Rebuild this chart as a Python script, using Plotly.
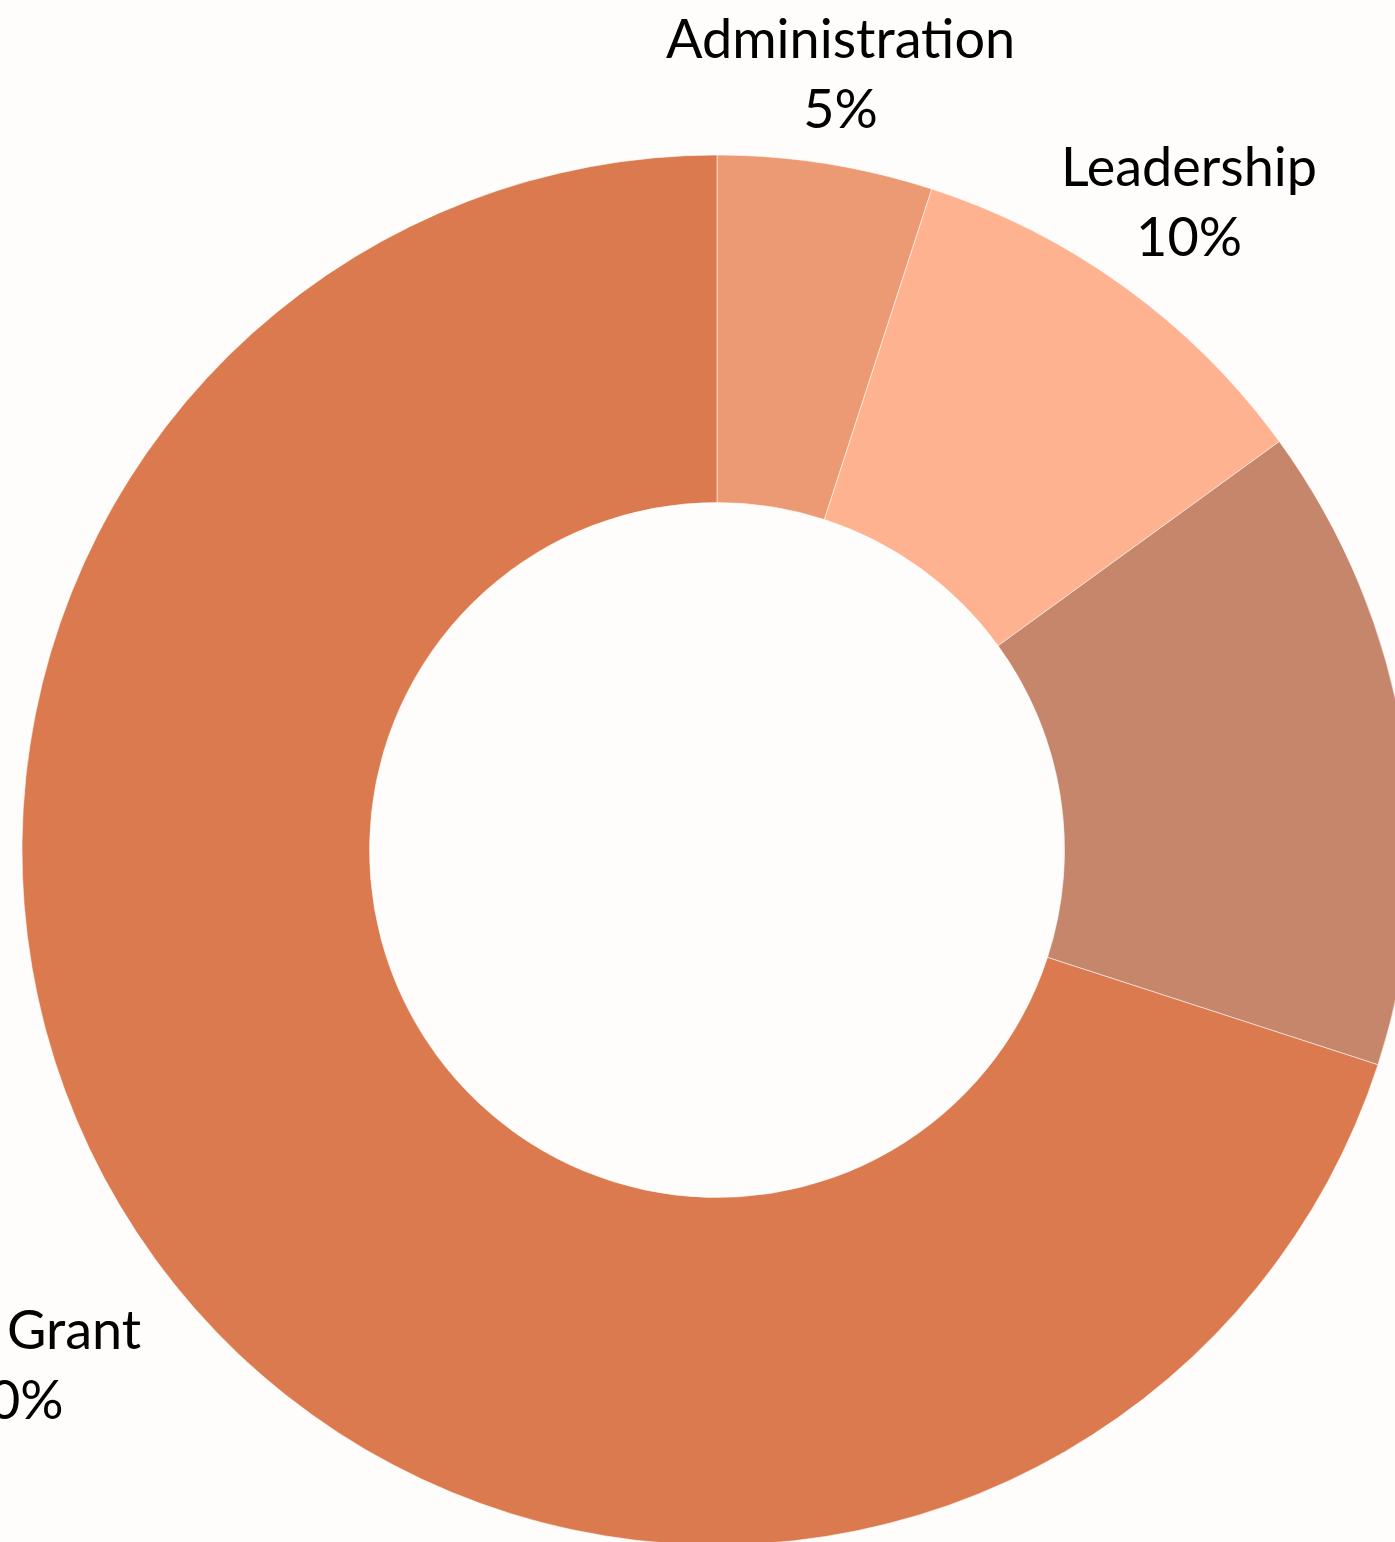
import math
import plotly.graph_objects as go

labels = ["Administration", "Leadership", "Operations", "Core Grant"]
values = [5, 10, 15, 70]
colors = ["#EB9A74", "#FFB290", "#C5866B", "#DC7A4F"]

# label placement (styling): radial distance of each label centre, in units of the outer radius
label_radius = [1.132, 1.155, 1.35, 1.256]

BG = "#FFFDFB"
FONT = "Lato, Inter, sans-serif"

fig = go.Figure(
    go.Pie(
        labels=labels,
        values=values,
        hole=0.5,
        sort=False,
        direction="clockwise",
        rotation=0,
        marker=dict(colors=colors, line=dict(color="rgba(255,253,251,0.55)", width=1)),
        textinfo="none",
        showlegend=False,
        hoverinfo="label+percent",
    )
)

# outside labels, placed along each slice's mid-angle
total = sum(values)
cum = 0.0
for lab, val, k in zip(labels, values, label_radius):
    mid = (cum + val / 2) / total * 2 * math.pi
    cum += val
    px = 0.5 + k * math.sin(mid) / 2
    py = 0.5 + k * math.cos(mid) / 2
    pct = round(val / total * 100)
    fig.add_annotation(
        x=px, y=py, xref="paper", yref="paper",
        text=f"{lab}<br>{pct}%",
        showarrow=False,
        xanchor="center", yanchor="middle", align="center",
        font=dict(family=FONT, size=54, color="#000000"),
    )

fig.update_layout(
    width=1434,
    height=1700,
    margin=dict(l=22, r=22, t=155, b=155),
    paper_bgcolor=BG,
    plot_bgcolor=BG,
)

fig.write_html(
    "out.html",
    post_script="document.body.style.margin='0';document.body.style.overflow='hidden';document.documentElement.style.overflow='hidden';document.body.style.background='#FFFDFB';",
)
